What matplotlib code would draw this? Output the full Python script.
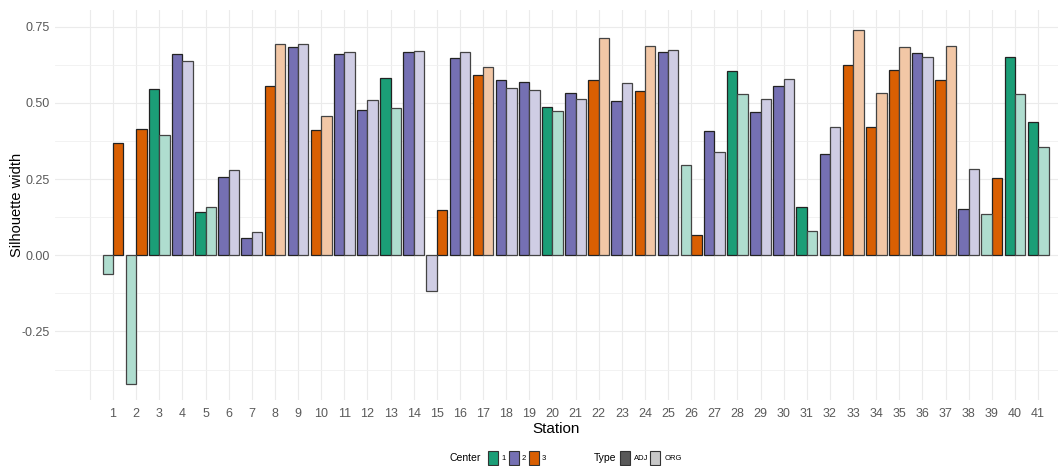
import numpy as np
import matplotlib
matplotlib.use('Agg')
from matplotlib import pyplot as plt
from matplotlib.patches import Rectangle

plt.rcParams['font.family'] = ['Liberation Sans', 'DejaVu Sans']

# Station data
stations = list(range(1, 42))
adj_center = [3, 3, 1, 2, 1, 2, 2, 3, 2, 3,
              2, 2, 1, 2, 3, 2, 3, 2, 2, 1,
              2, 3, 2, 3, 2, 3, 2, 1, 2, 2,
              1, 2, 3, 3, 3, 2, 3, 2, 3, 1, 1]
org_center = [1, 1, 1, 2, 1, 2, 2, 3, 2, 3,
              2, 2, 1, 2, 2, 2, 3, 2, 2, 1,
              2, 3, 2, 3, 2, 1, 2, 1, 2, 2,
              1, 2, 3, 3, 3, 2, 3, 2, 1, 1, 1]
adj_width = [0.370, 0.416, 0.545, 0.661, 0.141, 0.256, 0.058, 0.556, 0.685, 0.411,
             0.661, 0.478, 0.583, 0.666, 0.150, 0.646, 0.593, 0.576, 0.568, 0.487,
             0.533, 0.574, 0.506, 0.538, 0.666, 0.067, 0.408, 0.605, 0.471, 0.554,
             0.158, 0.333, 0.625, 0.420, 0.609, 0.663, 0.574, 0.153, 0.252, 0.651, 0.438]
org_width = [-0.060, -0.423, 0.396, 0.637, 0.158, 0.281, 0.075, 0.692, 0.694, 0.457,
             0.666, 0.510, 0.485, 0.670, -0.117, 0.666, 0.617, 0.550, 0.543, 0.474,
             0.514, 0.714, 0.566, 0.686, 0.674, 0.297, 0.339, 0.530, 0.514, 0.577,
             0.079, 0.420, 0.740, 0.531, 0.683, 0.651, 0.686, 0.284, 0.137, 0.528, 0.354]

center_colors = {1: '#1B9E77', 2: '#7570B3', 3: '#D95F02'}
ORG_ALPHA = 0.35
W, H = 1058, 466


def lighten(hexcol, alpha=ORG_ALPHA):
    rgb = np.array(matplotlib.colors.to_rgb(hexcol))
    return tuple(rgb * alpha + (1 - alpha))


fig = plt.figure(figsize=(W / 100, H / 100), dpi=100)
ax = fig.add_axes([55 / W, (H - 400) / H, 1 - 55 / W, 390 / H])

bw = 0.45
for s, ac, oc, av, ov in zip(stations, adj_center, org_center, adj_width, org_width):
    # ggplot dodge order: group id = (center, type)
    if oc < ac:
        org_x, adj_x = s - bw / 2, s + bw / 2
    else:
        adj_x, org_x = s - bw / 2, s + bw / 2
    ax.bar(adj_x, av, width=bw, color=center_colors[ac], edgecolor='#222222',
           linewidth=0.9, zorder=3)
    ax.bar(org_x, ov, width=bw, color=lighten(center_colors[oc]), edgecolor='#444444',
           linewidth=0.9, zorder=3)

ax.set_xlim(-1.51, 41.86)
ax.set_ylim(-0.475, 0.805)

ax.set_xticks(range(0, 42))
ax.set_xticklabels([''] + [str(s) for s in stations])
ax.set_yticks([-0.25, 0, 0.25, 0.5, 0.75])
ax.set_yticklabels(['-0.25', '0.00', '0.25', '0.50', '0.75'])
ax.set_yticks([-0.375, -0.125, 0.125, 0.375, 0.625], minor=True)

ax.grid(True, which='major', color='#ebebeb', linewidth=0.8, zorder=0)
ax.grid(True, which='minor', axis='y', color='#f0f0f0', linewidth=0.6, zorder=0)
ax.set_axisbelow(True)
for sp in ax.spines.values():
    sp.set_visible(False)
ax.tick_params(axis='both', which='both', length=0, colors='#5a5a5a', labelsize=9)
ax.tick_params(axis='x', pad=6)
ax.tick_params(axis='y', pad=4)

ax.set_xlabel('Station', fontsize=11, labelpad=1)
ax.set_ylabel('Silhouette width', fontsize=10.5)
# anchor is the right-hand edge of the rotated label
ax.yaxis.set_label_coords((24 - 55) / (W - 55), 0.5)

# legend drawn at the bottom, ggplot style
ly = H - 458


def fx(px):
    return px / W


def fy(py):
    return py / H


def key(x0, col, edge):
    fig.patches.append(Rectangle((fx(x0), fy(ly - 7)), 10 / W, 14 / H,
                                 transform=fig.transFigure, facecolor=col,
                                 edgecolor=edge, linewidth=0.8))


fig.text(fx(450), fy(ly), 'Center', fontsize=7.5, va='center', ha='left')
for x0, c, lab in [(488, 1, '1'), (509, 2, '2'), (529, 3, '3')]:
    key(x0, center_colors[c], '#333333')
    fig.text(fx(x0 + 13), fy(ly), lab, fontsize=5.5, va='center', ha='left')
fig.text(fx(594), fy(ly), 'Type', fontsize=7.5, va='center', ha='left')
key(620, '#595959', '#333333')
fig.text(fx(634), fy(ly), 'ADJ', fontsize=5.5, va='center', ha='left')
key(650, '#c8c8c8', '#333333')
fig.text(fx(665), fy(ly), 'ORG', fontsize=5.5, va='center', ha='left')

fig.savefig('out.png', dpi=100)
